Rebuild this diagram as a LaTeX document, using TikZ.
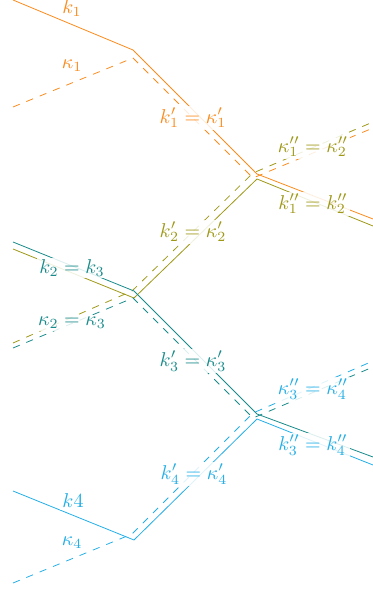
\documentclass[tikz,border=0pt]{standalone}
\definecolor{corange}{RGB}{250,140,30}
\definecolor{colive}{RGB}{158,152,22}
\definecolor{cteal}{RGB}{24,138,138}
\definecolor{ccyan}{RGB}{35,175,230}
\begin{document}
\begin{tikzpicture}[x=0.5pt,y=-0.5pt,line width=0.4pt,
  solidline/.style={line join=miter},
  dashline/.style={dash pattern=on 3.6pt off 3.6pt},
  lab/.style={fill=white,fill opacity=0.85,text opacity=1,inner sep=1pt}]
\useasboundingbox (0,0) rectangle (373,592);
% orange
\coordinate (o0) at (13,0);   \coordinate (o1) at (133,50);  \coordinate (o2) at (257,174); \coordinate (o3) at (373,219);
\coordinate (od0) at (13,107);\coordinate (od1) at (133,58); \coordinate (od2) at (253,178); \coordinate (od3) at (373,128);
% olive
\coordinate (v0) at (13,249); \coordinate (v1) at (134,298); \coordinate (v2) at (257,179); \coordinate (v3) at (373,226);
\coordinate (vd0) at (13,343);\coordinate (vd1) at (132,291); \coordinate (vd2) at (253,173); \coordinate (vd3) at (373,122);
% teal
\coordinate (t0) at (13,242); \coordinate (t1) at (134,291); \coordinate (t2) at (257,414); \coordinate (t3) at (373,457);
\coordinate (td0) at (13,348);\coordinate (td1) at (133,298); \coordinate (td2) at (253,418); \coordinate (td3) at (373,367);
% cyan
\coordinate (c0) at (13,491); \coordinate (c1) at (134,540); \coordinate (c2) at (257,419); \coordinate (c3) at (373,465);
\coordinate (cd0) at (13,583);\coordinate (cd1) at (132,534); \coordinate (cd2) at (253,413); \coordinate (cd3) at (373,361);

\draw[corange,solidline] (o0) -- (o1) -- (o2) -- (o3);
\draw[corange,dashline] (od0) -- (od1) -- (od2) -- (od3);
\draw[colive,solidline] (v0) -- (v1) -- (v2) -- (v3);
\draw[colive,dashline] (vd0) -- (vd1) -- (vd2) -- (vd3);
\draw[cteal,solidline] (t0) -- (t1) -- (t2) -- (t3);
\draw[cteal,dashline] (td0) -- (td1) -- (td2) -- (td3);
\draw[ccyan,solidline] (c0) -- (c1) -- (c2) -- (c3);
\draw[ccyan,dashline] (cd0) -- (cd1) -- (cd2) -- (cd3);

\node[lab,text=corange] (l1) at (72,8) {$k_1$};
\node[lab,text=corange] (l2) at (72,66) {$\kappa_1$};
\node[lab,text=corange] (l3) at (193,118) {$k_1'=\kappa_1'$};
\node[lab,text=colive] (l4) at (313,147) {$\kappa_1''=\kappa_2''$};
\node[lab,text=colive] (l5) at (313,204) {$k_1''=k_2''$};
\node[lab,text=colive] (l6) at (193,232) {$k_2'=\kappa_2'$};
\node[lab,text=cteal] (l7) at (72,268) {$k_2=k_3$};
\node[lab,text=cteal] (l8) at (72,323) {$\kappa_2=\kappa_3$};
\node[lab,text=cteal] (l9) at (193,361) {$k_3'=\kappa_3'$};
\node[lab,text=ccyan] (l10) at (313,389) {$\kappa_3''=\kappa_4''$};
\node[lab,text=ccyan] (l11) at (313,445) {$k_3''=k_4''$};
\node[lab,text=ccyan] (l12) at (194,474) {$k_4'=\kappa_4'$};
\node[lab,text=ccyan] (l13) at (73,501) {$k4$};
\node[lab,text=ccyan] (l14) at (72,543) {$\kappa_4$};
\end{tikzpicture}
\end{document}
